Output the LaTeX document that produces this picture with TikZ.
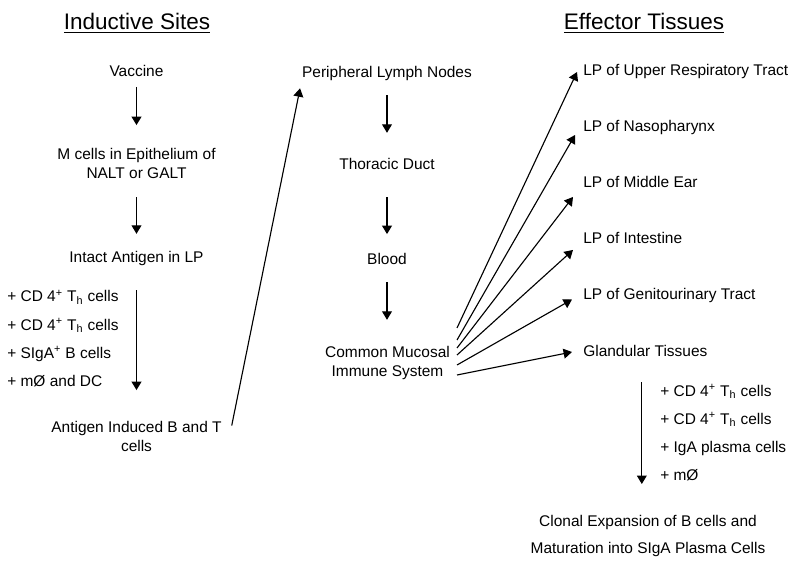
\documentclass[tikz,border=0pt]{standalone}
\usepackage{fontspec}
\setmainfont{Liberation Sans}
\usetikzlibrary{arrows.meta, calc}

\begin{document}
\begin{tikzpicture}[x=0.025cm, y=-0.025cm,
    txt/.style={font=\fontsize{11}{13.5}\selectfont, align=center, inner sep=2pt},
    title/.style={font=\fontsize{16}{19}\selectfont, inner sep=0pt},
    plus/.style={font=\fontsize{11}{13.5}\selectfont, anchor=base west, inner sep=0pt},
    arr/.style={line width=0.8pt, -{Triangle[width=7pt, length=6pt]}}]

    % --- Page (pixel frame, y downwards) ---
    \useasboundingbox (0,0) rectangle (800,563);

    % --- Titles ---
    \node[title] (indTitle) at (137,23) {\underline{Inductive Sites}};
    \node[title] (effTitle) at (644,23) {\underline{Effector Tissues}};

    % --- Inductive sites column ---
    \node[txt] (vac)     at (136.5,70.5) {Vaccine};
    \node[txt] (mcell)   at (136.5,163.5) {M cells in Epithelium of\\NALT or GALT};
    \node[txt] (antigen) at (136.5,259) {Intact Antigen in LP};
    \node[txt] (induced) at (136.5,436.5) {Antigen Induced B and T\\cells};

    \draw[arr, shorten <=0.41cm, shorten >=0.96cm] (vac.center) -- (mcell.center);
    \draw[arr, shorten <=0.84cm, shorten >=0.63cm] (mcell.center) -- (antigen.center);
    \draw[arr, shorten <=0.78cm, shorten >=1.16cm] (antigen.center) -- (induced.center);

    % cells added on the way
    \node[plus] (lp1) at (7,302) {+ CD 4\textsuperscript{+} T\textsubscript{h} cells};
    \node[plus] (lp2) at (7,330) {+ CD 4\textsuperscript{+} T\textsubscript{h} cells};
    \node[plus] (lp3) at (7,358) {+ SIgA\textsuperscript{+} B cells};
    \node[plus] (lp4) at (7,386) {+ mØ and DC};

    % --- Middle column ---
    \node[txt] (pln)      at (387,74) {Peripheral Lymph Nodes};
    \node[txt] (thoracic) at (387,164) {Thoracic Duct};
    \node[txt] (blood)    at (387,258.5) {Blood};
    \node[txt] (cms)      at (387.5,363) {Common Mucosal\\Immune System};

    \draw[arr] ([shift={(7,-11)}]induced.east) -- ([shift={(1,4)}]pln.south west);

    \draw[arr, shorten <=0.53cm, shorten >=0.78cm] (pln.center) -- (thoracic.center);
    \draw[arr, shorten <=0.83cm, shorten >=0.61cm] (thoracic.center) -- (blood.center);
    \draw[arr, shorten <=0.59cm, shorten >=1.08cm] (blood.center) -- (blood.center |- cms.center);

    % --- Effector tissues ---
    \node[plus] (t1) at (583,76)  {LP of Upper Respiratory Tract};
    \node[plus] (t2) at (583,132) {LP of Nasopharynx};
    \node[plus] (t3) at (583,188) {LP of Middle Ear};
    \node[plus] (t4) at (583,244) {LP of Intestine};
    \node[plus] (t5) at (583,300) {LP of Genitourinary Tract};
    \node[plus] (gland) at (583,356) {Glandular Tissues};

    % fan out of the common mucosal system
    \coordinate (s1) at (457,328);
    \coordinate (s2) at (457,340);
    \coordinate (s3) at (457,348);
    \coordinate (s4) at (457,355);
    \coordinate (s5) at (457,365);
    \coordinate (s6) at (457,375);

    \draw[arr] (s1) -- ([shift={(-6,0)}]t1.west);
    \draw[arr] (s2) -- ([shift={(-8,7)}]t2.west);
    \draw[arr] (s3) -- ([shift={(-10,14.5)}]t3.west);
    \draw[arr] (s4) -- ([shift={(-10,11.5)}]t4.west);
    \draw[arr] (s5) -- ([shift={(-11,3.5)}]t5.west);
    \draw[arr] (s6) -- ([shift={(-11,1.5)}]gland.west);

    % --- Down to clonal expansion ---
    \node[txt, font=\fontsize{11}{19.9}\selectfont] (clonal) at (648,536)
        {Clonal Expansion of B cells and\\Maturation into SIgA Plasma Cells};

    \draw[arr, shorten <=0.79cm, shorten >=1.3cm]
        ([xshift=-2.5]gland.center) -- ([xshift=-2.5]gland.center |- clonal.center);

    \node[plus] (rp1) at (660,396) {+ CD 4\textsuperscript{+} T\textsubscript{h} cells};
    \node[plus] (rp2) at (660,424) {+ CD 4\textsuperscript{+} T\textsubscript{h} cells};
    \node[plus] (rp3) at (660,452) {+ IgA plasma cells};
    \node[plus] (rp4) at (660,480) {+ mØ};

\end{tikzpicture}
\end{document}
